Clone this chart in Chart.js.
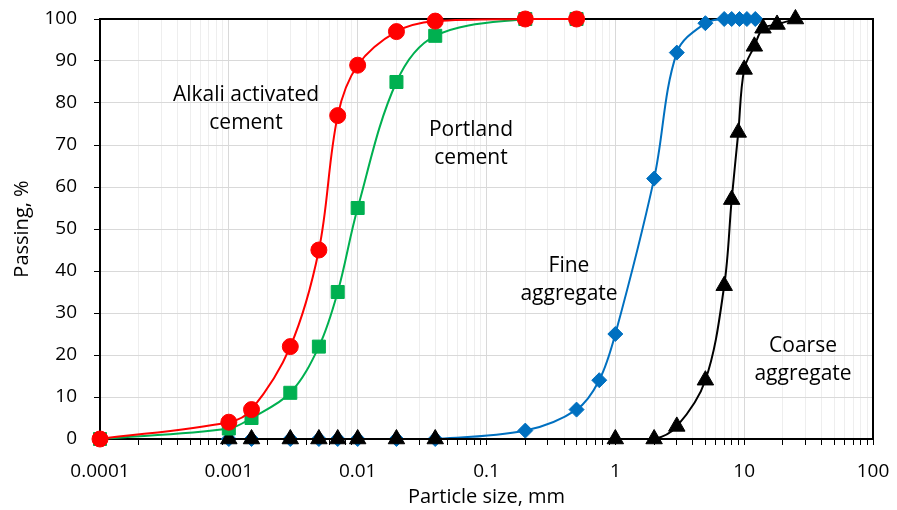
<!DOCTYPE html>
<html>
<head>
<meta charset="utf-8">
<script src="https://cdn.jsdelivr.net/npm/chart.js@4.4.0/dist/chart.umd.min.js"></script>
<style>
  body { margin: 0; background: #fff; }
  canvas { display: block; }
</style>
</head>
<body>
<canvas id="myChart" width="897" height="510"></canvas>
<script>
// particle size (mm) and % passing
const cementSizes = [0.0001, 0.001, 0.0015, 0.003, 0.005, 0.007, 0.01, 0.02, 0.04, 0.2, 0.5];
const alkaliPassing = [0, 4, 7, 22, 45, 77, 89, 97, 99.5, 100, 100];
const portlandPassing = [0, 2.5, 5, 11, 22, 35, 55, 85, 96, 100, 100];

const fineSizes = [0.001, 0.0015, 0.003, 0.005, 0.007, 0.01, 0.02, 0.04, 0.2, 0.5, 0.75, 1, 2, 3, 5, 7, 8, 9.2, 10.5, 12.2];
const finePassing = [0, 0, 0, 0, 0, 0, 0, 0, 2, 7, 14, 25, 62, 92, 99, 100, 100, 100, 100, 100];

const coarseSizes = [0.001, 0.0015, 0.003, 0.005, 0.007, 0.01, 0.02, 0.04, 1, 2, 3, 5, 7, 8, 9, 10, 12, 14, 18, 25];
const coarsePassing = [0, 0, 0, 0, 0, 0, 0, 0, 0, 0, 3, 14, 36.5, 57, 73, 88, 93.5, 97.8, 98.7, 100];

const xTickLabels = [0.0001, 0.001, 0.01, 0.1, 1, 10, 100];
const yTickLabels = [0, 10, 20, 30, 40, 50, 60, 70, 80, 90, 100];

const FONT = "'Open Sans', sans-serif";

function toPoints(xs, ys) {
  return xs.map((x, i) => ({ x: x, y: ys[i] }));
}

// minor ticks 1..9 in every decade, only decades get a label
const xTicks = [];
for (let i = 0; i < xTickLabels.length - 1; i++) {
  for (let k = 1; k <= 9; k++) {
    xTicks.push(parseFloat((xTickLabels[i] * k).toPrecision(6)));
  }
}
xTicks.push(xTickLabels[xTickLabels.length - 1]);

// text labels next to the curves (pixel positions)
const curveLabels = [
  { lines: ["Alkali activated", "cement"], x: 246, y: 101 },
  { lines: ["Portland", "cement"], x: 471, y: 136 },
  { lines: ["Fine", "aggregate"], x: 569, y: 272 },
  { lines: ["Coarse", "aggregate"], x: 803, y: 352 },
];

const frame = {
  id: "frame",
  beforeDatasetsDraw(chart) {
    const { ctx, chartArea: a } = chart;
    ctx.save();
    ctx.strokeStyle = "#000";
    ctx.lineWidth = 2;
    ctx.beginPath();
    ctx.moveTo(a.left, a.top);
    ctx.lineTo(a.right, a.top);
    ctx.lineTo(a.right, a.bottom);
    ctx.stroke();
    ctx.restore();
  },
  afterDraw(chart) {
    const ctx = chart.ctx;
    ctx.save();
    ctx.fillStyle = "#000";
    ctx.font = "21px " + FONT;
    ctx.textAlign = "center";
    ctx.textBaseline = "alphabetic";
    curveLabels.forEach((l) => {
      l.lines.forEach((t, j) => ctx.fillText(t, l.x, l.y + j * 28));
    });
    ctx.restore();
  },
};

function series(label, xs, ys, color, style, radius) {
  return {
    label: label,
    data: toPoints(xs, ys),
    showLine: true,
    clip: false,
    borderColor: color,
    backgroundColor: color,
    borderWidth: 2,
    pointStyle: style,
    pointRadius: radius,
    pointHoverRadius: radius,
    pointBorderWidth: 1,
    tension: 0.35,
  };
}

const ctx = document.getElementById("myChart");

new Chart(ctx, {
  type: "scatter",
  data: {
    datasets: [
      series("Alkali activated cement", cementSizes, alkaliPassing, "#ff0000", "circle", 8),
      series("Portland cement", cementSizes, portlandPassing, "#00b050", "rect", 9.2),
      series("Coarse aggregate", coarseSizes, coarsePassing, "#000000", "triangle", 9.5),
      series("Fine aggregate", fineSizes, finePassing, "#0070c0", "rectRot", 7.5),
    ],
  },
  plugins: [frame],
  options: {
    responsive: false,
    animation: false,
    devicePixelRatio: 1,
    layout: { padding: { top: 19, right: 24, left: 0, bottom: 0 } },
    plugins: {
      legend: { display: false },
      tooltip: { enabled: false },
    },
    scales: {
      x: {
        type: "logarithmic",
        min: xTickLabels[0],
        max: xTickLabels[xTickLabels.length - 1],
        afterBuildTicks: (s) => {
          s.ticks = xTicks.map((v) => ({ value: v }));
        },
        afterFit: (s) => {
          s.height = 71;
          s.paddingLeft = 0;
          s.paddingRight = 0;
        },
        border: { color: "#000", width: 2 },
        grid: {
          color: (c) => (c.tick && xTickLabels.includes(c.tick.value) ? "#d9d9d9" : "#eeeeee"),
          tickColor: "#000",
          tickLength: 6,
        },
        ticks: {
          autoSkip: false,
          maxRotation: 0,
          padding: 15,
          color: "#000",
          font: { family: FONT, size: 19 },
          callback: (v) => (xTickLabels.includes(v) ? String(v) : ""),
        },
        title: {
          display: true,
          text: "Particle size, mm",
          color: "#000",
          font: { family: FONT, size: 20 },
          padding: { top: 0, bottom: 1 },
        },
      },
      y: {
        min: yTickLabels[0],
        max: yTickLabels[yTickLabels.length - 1],
        afterFit: (s) => {
          s.width = 100;
          s.paddingTop = 0;
          s.paddingBottom = 0;
        },
        border: { color: "#000", width: 2 },
        grid: {
          color: "#d9d9d9",
          tickColor: "#000",
          tickLength: 6,
        },
        ticks: {
          stepSize: 10,
          padding: 17,
          color: "#000",
          font: { family: FONT, size: 19 },
        },
        title: {
          display: true,
          text: "Passing, %",
          color: "#000",
          font: { family: FONT, size: 20 },
          padding: { top: 10, bottom: 0 },
        },
      },
    },
  },
});
</script>
</body>
</html>
